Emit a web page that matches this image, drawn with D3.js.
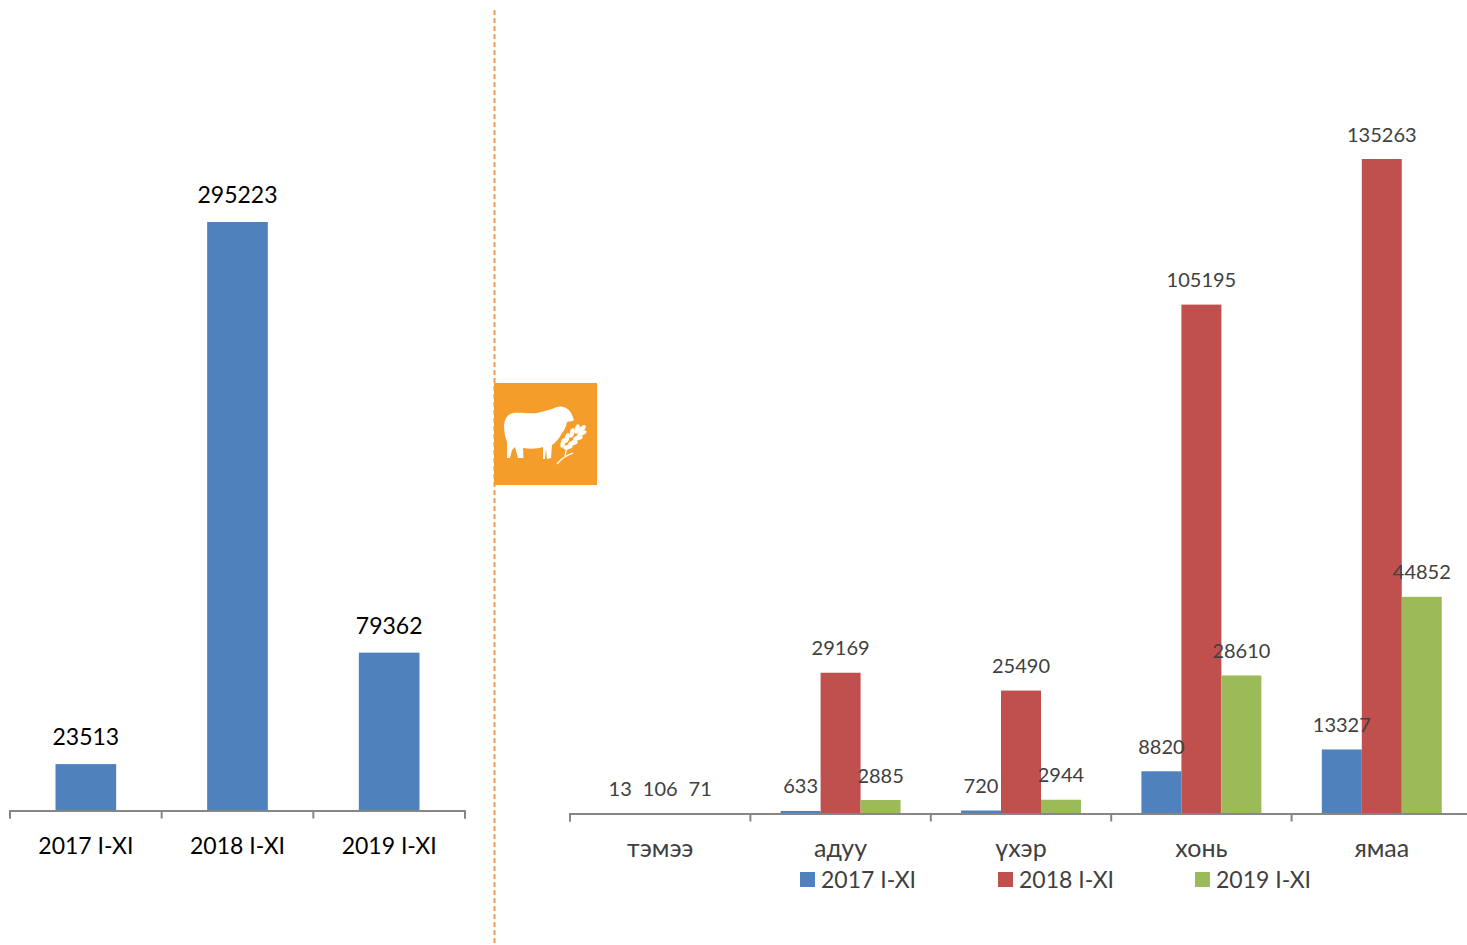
<!DOCTYPE html>
<meta charset="utf-8">
<style>
body { margin: 0; background: #fff; }
svg { display: block; }
text { font-family: Lato, "Open Sans", sans-serif; }
.edge path, .edge line { stroke: #868686; stroke-width: 2; }
</style>
<svg width="1467" height="945"></svg>
<script src="https://d3js.org/d3.v7.min.js"></script>
<script>
var periods = ["2017 I-XI", "2018 I-XI", "2019 I-XI"];
var totals = [23513, 295223, 79362];
var animals = ["тэмээ", "адуу", "үхэр", "хонь", "ямаа"];
var values2017 = [13, 633, 720, 8820, 13327];
var values2018 = [106, 29169, 25490, 105195, 135263];
var values2019 = [71, 2885, 2944, 28610, 44852];
var colors = ["#4f81bd", "#c0504d", "#9bbb59"];

var svg = d3.select("svg");

// band edges get the ticks, the labels sit in the middle of each band
function drawAxis(x, y, color, size, pad) {
  var r = x.range();
  var edges = d3.scaleLinear().domain([0, x.domain().length]).range(r);
  svg.append("g")
      .attr("class", "edge")
      .attr("transform", "translate(-0.5," + (y - 0.5) + ")")
      .call(d3.axisBottom(edges).ticks(x.domain().length).tickSizeOuter(8).tickSizeInner(8).tickFormat(""));
  svg.append("g")
      .attr("transform", "translate(0," + y + ")")
      .call(d3.axisBottom(x).tickSize(0).tickPadding(pad))
      .call(function(g) { g.select(".domain").remove(); })
    .selectAll("text")
      .attr("fill", color)
      .style("font-size", size + "px")
      .style("font-family", "Lato, 'Open Sans', sans-serif");
}

// left chart
var x1 = d3.scaleBand().domain(periods).range([10, 465]).paddingInner(0.6).paddingOuter(0.3);
var y1 = d3.scaleLinear().domain([0, 295223]).range([811, 222]);

svg.append("g").selectAll("rect")
  .data(totals)
  .enter().append("rect")
    .attr("x", function(d, i) { return x1(periods[i]); })
    .attr("y", function(d) { return y1(d); })
    .attr("width", x1.bandwidth())
    .attr("height", function(d) { return y1(0) - y1(d); })
    .attr("fill", colors[0]);

svg.append("g").selectAll("text")
  .data(totals)
  .enter().append("text")
    .attr("x", function(d, i) { return x1(periods[i]) + x1.bandwidth() / 2; })
    .attr("y", function(d) { return y1(d) - 19; })
    .attr("text-anchor", "middle")
    .style("font-size", "23px")
    .attr("fill", "#000")
    .text(function(d) { return d; });

drawAxis(x1, 811, "#000", 23, 27);

// right chart, the last band runs off the page as in the original
var x2 = d3.scaleBand().domain(animals).range([570, 1472]);
var xs = d3.scaleBand().domain(periods).range([0, x2.bandwidth()]).paddingInner(0).paddingOuter(0.756);
var y2 = d3.scaleLinear().domain([0, 135263]).range([814, 159]);
var series = [values2017, values2018, values2019];

var groups = svg.append("g").selectAll("g")
  .data(series)
  .enter().append("g")
    .attr("fill", function(d, i) { return colors[i]; });

groups.each(function(values, s) {
  d3.select(this).selectAll("rect")
    .data(values)
    .enter().append("rect")
      .attr("x", function(d, i) { return x2(animals[i]) + xs(periods[s]); })
      .attr("y", function(d) { return y2(d); })
      .attr("width", xs.bandwidth())
      .attr("height", function(d) { return y2(0) - y2(d); });
});

groups.each(function(values, s) {
  svg.append("g").selectAll("text")
    .data(values)
    .enter().append("text")
      .attr("x", function(d, i) { return x2(animals[i]) + xs(periods[s]) + xs.bandwidth() / 2; })
      .attr("y", function(d) { return y2(d) - 17.5; })
      .attr("text-anchor", "middle")
      .style("font-size", "20px")
      .attr("fill", "#404040")
      .text(function(d) { return d; });
});

drawAxis(x2, 814, "#404040", 25, 25);

// legend
var legendX = [800, 998, 1195];
var legend = svg.append("g").selectAll("g")
  .data(periods)
  .enter().append("g")
    .attr("transform", function(d, i) { return "translate(" + legendX[i] + ",872)"; });
legend.append("rect")
    .attr("width", 15)
    .attr("height", 15)
    .attr("fill", function(d, i) { return colors[i]; });
legend.append("text")
    .attr("x", 21)
    .attr("y", 16)
    .style("font-size", "23px")
    .attr("fill", "#404040")
    .text(function(d) { return d; });

// divider and icon
svg.append("line")
    .attr("x1", 494.5).attr("x2", 494.5)
    .attr("y1", 10).attr("y2", 945)
    .attr("stroke", "#f59a4a")
    .attr("stroke-width", 2)
    .attr("stroke-dasharray", "5 3");

svg.append("rect")
    .attr("x", 494).attr("y", 383)
    .attr("width", 103).attr("height", 102)
    .attr("fill", "#f59d2a");

var icon = svg.append("g").attr("fill", "#fff");
icon.append("path")
    .attr("d", "M504 425 C505 418 508 414 513 413 C520 412 530 414 537 413 C543 412 547 410 552 409 C556 407 560 406 563 407 C568 408 571 412 572 415 L574 420 C572 422 569 421 567 422 C566 427 564 431 562 433 C559 439 555 443 552 445 L551 458 L547 459 L546 449 L545 459 L543 459 L543 447 C537 449 530 449 523 448 L523.5 458 L518 458 L515 447 L512 450 L510 458 L507 458 L507 442 C505 437 504 431 504 425 Z");

// wheat ear, two rows of kernels along the stalk
var kernels = [[563, 443, -75], [568, 447, -15], [567, 438, -75], [573, 443, -15],
               [572, 433, -75], [578, 438, -15], [577, 429, -70], [582, 433, -20], [582, 429, -45]];
icon.selectAll("ellipse")
  .data(kernels)
  .enter().append("ellipse")
    .attr("cx", function(d) { return d[0]; })
    .attr("cy", function(d) { return d[1]; })
    .attr("rx", 4.8)
    .attr("ry", 2.3)
    .attr("transform", function(d) { return "rotate(" + d[2] + " " + d[0] + " " + d[1] + ")"; });
icon.append("path")
    .attr("d", "M557 464 C561 459 566 455 573 453 M565 456 C566 452 566 449 568 446 L581 432")
    .attr("fill", "none")
    .attr("stroke", "#fff")
    .attr("stroke-width", 1.3);
</script>
